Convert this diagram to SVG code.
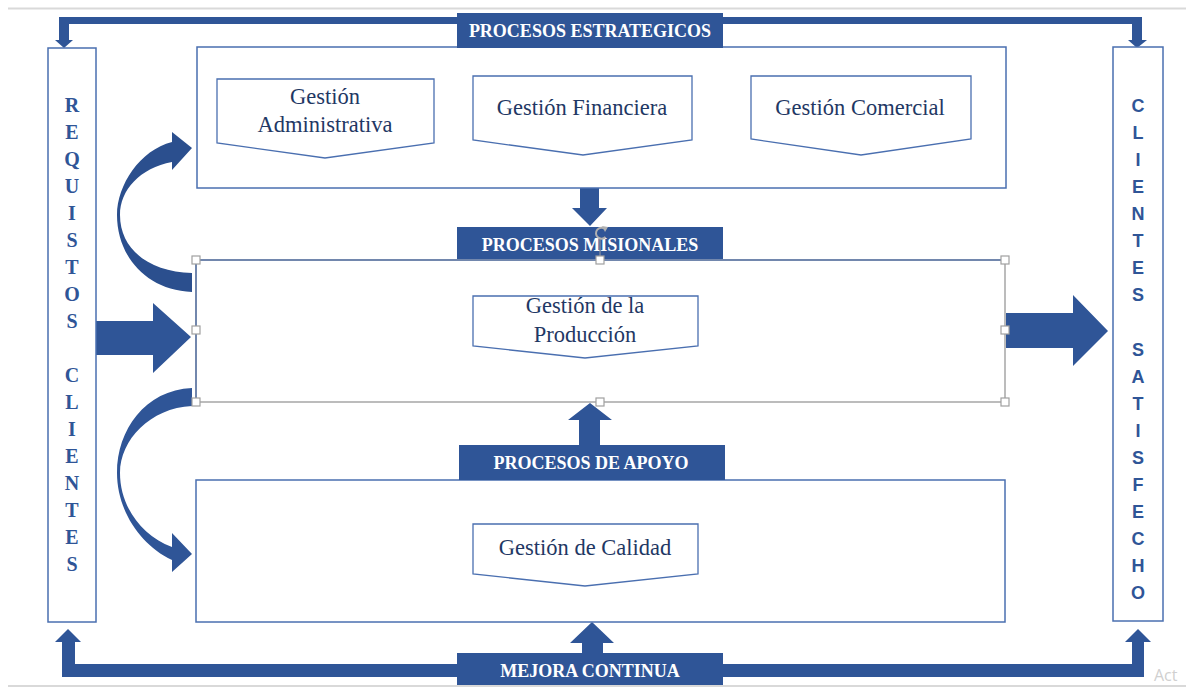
<svg xmlns="http://www.w3.org/2000/svg" width="1186" height="687" viewBox="0 0 1186 687">
<style>
.bar{fill:#2f5597}
.box{fill:#ffffff;stroke:#4a6fb0;stroke-width:1.5}
.sub{fill:#ffffff;stroke:#4a6fb0;stroke-width:1.3}
.lbl{font-family:"Liberation Serif","Times New Roman",serif;font-weight:bold;font-size:18px;fill:#ffffff;text-anchor:middle}
.st{font-family:"Liberation Serif","Times New Roman",serif;font-size:22.5px;fill:#1f3864;text-anchor:middle}
.vl{font-family:"Liberation Serif","Times New Roman",serif;font-weight:bold;font-size:20px;fill:#2f5597;text-anchor:middle}
.vr{font-family:"Liberation Sans",Arial,sans-serif;font-weight:bold;font-size:18px;fill:#2f5597;text-anchor:middle}
.hd{fill:#ffffff;stroke:#a0a0a0;stroke-width:1.2}
.sep{stroke:#d9d9d9;stroke-width:2}
</style>
<rect width="1186" height="687" fill="#ffffff"/>
<line class="sep" x1="8" y1="8.5" x2="1186" y2="8.5"/>
<line class="sep" x1="8" y1="686" x2="1186" y2="686"/>

<g id="connectors">
  <rect class="bar" x="59" y="17" width="1083" height="7"/>
  <rect class="bar" x="59" y="17" width="10" height="24"/>
  <polygon class="bar" points="55,40 73,40 64,48"/>
  <rect class="bar" x="1132" y="17" width="10" height="24"/>
  <polygon class="bar" points="1128,40 1147,40 1137,48"/>
  <rect class="bar" x="62" y="664" width="1082" height="13"/>
  <rect class="bar" x="62" y="641" width="13" height="36"/>
  <polygon class="bar" points="55,642 81,642 68,629"/>
  <rect class="bar" x="1132" y="641" width="12" height="36"/>
  <polygon class="bar" points="1125,642 1151,642 1138,629"/>
  <polygon class="bar" points="580,188 599,188 599,208 607,208 590,226 572,208 580,208"/>
  <polygon class="bar" points="579,446 600,446 600,420 612,420 590,403 568,420 579,420"/>
  <polygon class="bar" points="582,654 603,654 603,643 614,643 592,622 570,643 582,643"/>
  <polygon class="bar" points="96,321 153,321 153,303 191,337 153,373 153,355 96,355"/>
  <polygon class="bar" points="1006,313 1073,313 1073,295 1108,331 1073,366 1073,348 1006,348"/>
  <path d="M192,292 C145,290 117,255 117,215 C117,185 140,150 172,142 L172,132 L192,148 L172,170 L172,162 C140,168 120,190 120,215 C120,250 150,272 192,273 Z" fill="#2b4f8e"/>
  <path class="bar" d="M192,388 C145,390 117,430 117,473 C117,510 140,545 172,560 L172,572 L192,554 L172,533 L172,547 C140,535 120,505 120,473 C120,440 150,408 192,406 Z"/>
</g>

<g id="requisitos">
  <rect class="box" x="48" y="48" width="48" height="574"/>
  <g class="vl">
    <text x="72" y="112">R</text><text x="72" y="139">E</text><text x="72" y="166">Q</text><text x="72" y="193">U</text>
    <text x="72" y="220">I</text><text x="72" y="247">S</text><text x="72" y="274">T</text><text x="72" y="301">O</text>
    <text x="72" y="328">S</text>
    <text x="72" y="382">C</text><text x="72" y="409">L</text><text x="72" y="436">I</text><text x="72" y="463">E</text>
    <text x="72" y="490">N</text><text x="72" y="517">T</text><text x="72" y="544">E</text><text x="72" y="571">S</text>
  </g>
</g>

<g id="clientes-satisfecho">
  <rect class="box" x="1113" y="47" width="50" height="574"/>
  <g class="vr">
    <text x="1138" y="112">C</text><text x="1138" y="139">L</text><text x="1138" y="166">I</text><text x="1138" y="193">E</text>
    <text x="1138" y="220">N</text><text x="1138" y="247">T</text><text x="1138" y="274">E</text><text x="1138" y="301">S</text>
    <text x="1138" y="356">S</text><text x="1138" y="383">A</text><text x="1138" y="410">T</text><text x="1138" y="437">I</text>
    <text x="1138" y="464">S</text><text x="1138" y="491">F</text><text x="1138" y="518">E</text><text x="1138" y="545">C</text>
    <text x="1138" y="572">H</text><text x="1138" y="599">O</text>
  </g>
</g>

<g id="estrategicos">
  <rect class="box" x="197" y="47" width="809" height="141"/>
  <rect class="bar" x="457" y="13" width="266" height="35"/>
  <text class="lbl" x="590" y="37">PROCESOS ESTRATEGICOS</text>
</g>

<g id="gestion-administrativa">
  <polygon class="sub" points="217,79 434,79 434,143 325,158 217,143"/>
  <text class="st" x="325" y="104">Gestión</text>
  <text class="st" x="325" y="132">Administrativa</text>
</g>
<g id="gestion-financiera">
  <polygon class="sub" points="473,76 692,76 692,140 583,155 473,140"/>
  <text class="st" x="582" y="115">Gestión Financiera</text>
</g>
<g id="gestion-comercial">
  <polygon class="sub" points="751,76 971,76 971,139 861,155 751,139"/>
  <text class="st" x="860" y="115">Gestión Comercial</text>
</g>

<g id="misionales">
  <rect x="196" y="260" width="809" height="142" fill="#ffffff" stroke="#a6a6a6" stroke-width="1.5"/>
  <line x1="196" y1="260" x2="1005" y2="260" stroke="#5a76a8" stroke-width="1.5"/>
  <line x1="196" y1="260" x2="196" y2="402" stroke="#5a76a8" stroke-width="1.5"/>
  <rect class="bar" x="457" y="227" width="266" height="32"/>
  <text class="lbl" x="590" y="251">PROCESOS MISIONALES</text>
</g>

<g id="gestion-produccion">
  <polygon class="sub" points="473,296 698,296 698,346 585,358 473,346"/>
  <text class="st" x="585" y="313">Gestión de la</text>
  <text class="st" x="585" y="342">Producción</text>
</g>

<g id="apoyo">
  <rect class="box" x="196" y="480" width="809" height="142"/>
  <rect class="bar" x="459" y="445" width="266" height="35"/>
  <text class="lbl" x="591" y="469">PROCESOS DE APOYO</text>
</g>

<g id="gestion-calidad">
  <polygon class="sub" points="473,524 698,524 698,574 585,586 473,574"/>
  <text class="st" x="585" y="555">Gestión de Calidad</text>
</g>

<g id="mejora-continua">
  <rect class="bar" x="457" y="653" width="266" height="32"/>
  <text class="lbl" x="590" y="677">MEJORA CONTINUA</text>
</g>

<g id="selection-handles">
  <line x1="600" y1="238" x2="600" y2="256" stroke="#a0a0a0" stroke-width="1"/>
  <path d="M605,229 A5.5,5.5 0 1 0 605.5,237" fill="none" stroke="#b0b0b0" stroke-width="2"/>
  <polygon points="602,226 608,227 605,232" fill="#b0b0b0"/>
  <rect class="hd" x="192" y="256" width="8" height="8"/>
  <rect class="hd" x="596" y="256" width="8" height="8"/>
  <rect class="hd" x="1001" y="256" width="8" height="8"/>
  <rect class="hd" x="192" y="326" width="8" height="8"/>
  <rect class="hd" x="1001" y="326" width="8" height="8"/>
  <rect class="hd" x="192" y="398" width="8" height="8"/>
  <rect class="hd" x="596" y="398" width="8" height="8"/>
  <rect class="hd" x="1001" y="398" width="8" height="8"/>
</g>

<text x="1154" y="681" font-family="'Open Sans','Liberation Sans',sans-serif" font-size="16" fill="#d0d0d0">Act</text>
</svg>
